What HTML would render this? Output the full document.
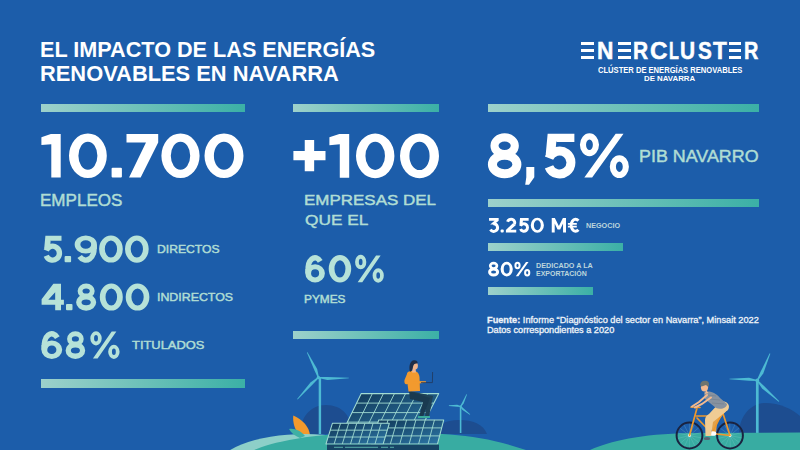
<!DOCTYPE html><html><head><meta charset="utf-8"><style>
html,body{margin:0;padding:0;width:800px;height:450px;overflow:hidden}
body{background:#1c5daa;position:relative;font-family:"Liberation Sans",sans-serif}
.t{position:absolute;white-space:nowrap;line-height:1;transform-origin:0 0}
.bar{position:absolute;background:linear-gradient(90deg,#9dd1cb 0%,#3bb0a6 100%)}
</style></head><body>
<svg width="800" height="450" viewBox="0 0 800 450" style="position:absolute;left:0;top:0"><defs><linearGradient id="g1" x1="0" y1="0" x2="1" y2="1"><stop offset="0" stop-color="#103655"/><stop offset="1" stop-color="#2d78a8"/></linearGradient></defs><path d="M300,434 C300,418 310,405 326,405 C342,405 352,416 352,434 Z" fill="#1d4d90"/><path d="M436,434 C436,425 445,420 459,420 C473,420 483,424 487,434 Z" fill="#1d4d90"/><path d="M739,434 C739,415 752,403 765,403 C780,403 792,409 800,416 L800,434 Z" fill="#1d4d90"/><g fill="#4dbad3"><rect x="318.70" y="377.50" width="2.4" height="56.50"/><polygon points="318.95,377.26 317.14,369.01 307.52,352.16 306.88,352.44 314.41,370.22 317.85,377.74"/><polygon points="318.39,378.10 327.48,379.95 348.79,378.35 348.81,377.65 327.53,376.96 318.41,376.90"/><polygon points="317.97,377.08 310.44,382.44 297.15,399.06 297.65,399.54 312.60,384.52 318.83,377.92"/><circle cx="318.4" cy="377.5" r="1.68"/></g><g fill="#4dbad3"><rect x="459.80" y="406.50" width="1.6" height="26.50"/><polygon points="461.14,406.77 463.68,403.50 467.01,394.56 466.39,394.24 462.05,402.68 460.06,406.23"/><polygon points="460.65,405.90 457.20,404.83 448.93,405.25 448.87,405.95 457.06,406.65 460.55,407.10"/><polygon points="460.21,406.96 462.52,409.94 469.77,414.67 470.23,414.13 463.69,408.55 460.99,406.04"/><circle cx="460.6" cy="406.5" r="1.12"/></g><g fill="#4dbad3"><rect x="755.95" y="380.50" width="2.7" height="53.50"/><polygon points="757.84,380.76 763.28,373.42 770.32,353.65 769.68,353.35 760.46,372.09 756.76,380.24"/><polygon points="757.33,379.90 749.09,377.65 729.52,378.65 729.48,379.35 748.92,380.77 757.27,381.10"/><polygon points="756.88,380.93 762.14,388.52 778.76,401.75 779.24,401.25 764.31,386.28 757.72,380.07"/><circle cx="757.3" cy="380.5" r="1.89"/></g><path d="M293.3,415.6 C303,420 309,427 310,435 L299,435 C295,430 292.5,423 293.3,415.6 Z" fill="#f39a2c"/><ellipse cx="305" cy="470" rx="90" ry="36" fill="#8dcfc8"/><path d="M289,429 C295,428 301,431 305,436 L300,438 C295,436 291,433 289,429 Z" fill="#3fb0a4"/><path d="M254,450 C270,443 310,432.5 380,432.5 C440,432.5 480,434 526,450 Z" fill="#38aca2"/><path d="M590,450 C610,441 640,434 690,433 L800,432.5 L800,450 Z" fill="#38aca2"/><polygon points="361.25,393.6 438.75,393.6 419.4,431.6 342.8,431.6" fill="url(#g1)" stroke="#a2dcd2" stroke-width="1.05" stroke-linejoin="round"/><g stroke="#a2dcd2" stroke-width="0.8925"><line x1="372.32" y1="393.60" x2="353.74" y2="431.60"/><line x1="383.39" y1="393.60" x2="364.69" y2="431.60"/><line x1="394.46" y1="393.60" x2="375.63" y2="431.60"/><line x1="405.54" y1="393.60" x2="386.57" y2="431.60"/><line x1="416.61" y1="393.60" x2="397.51" y2="431.60"/><line x1="427.68" y1="393.60" x2="408.46" y2="431.60"/><line x1="356.64" y1="403.10" x2="433.91" y2="403.10"/><line x1="352.02" y1="412.60" x2="429.07" y2="412.60"/><line x1="347.41" y1="422.10" x2="424.24" y2="422.10"/></g><g><path d="M410,391 L433,396 L429,417 L425,417 L427,400 L415,398 Z" fill="#1f4257"/><path d="M409,391 L430,398 L423,417 L419,417 L423,402 L410,399 Z" fill="#1a3a50"/><path d="M407,374 C407,371.5 410,371 413,371 C417,371 419,373 419.5,377 L420,391 L408.5,391.5 L407.5,384 C405,385 404,383 404.5,380 Z" fill="#f29a2e"/><path d="M413,381 L426,381.2 L426,382.8 L414,384 Z" fill="#f29a2e"/><path d="M421,382.6 L432.4,382.6 L432.6,372" stroke="#22385a" stroke-width="0.8" fill="none"/><path d="M412,372.5 L416,372.5 L415.5,368 L412.5,368 Z" fill="#f0b48c"/><ellipse cx="415" cy="365.8" rx="2.9" ry="3.8" fill="#f0b48c"/><path d="M410,372 C408.5,367 410,360.5 414,360.3 C417,360.2 418,362 417.5,363.5 C415,363 413.5,364 413,367 C412.5,369 412,371 410,372 Z" fill="#1e2e48"/><rect x="424" y="416" width="6" height="2" fill="#3aab9c"/><rect x="418" y="416" width="6" height="2" fill="#3aab9c"/></g><polygon points="378.75,419.9 443.75,419.9 437.5,443.9 371.5,443.9" fill="url(#g1)" stroke="#a2dcd2" stroke-width="1.05" stroke-linejoin="round"/><g stroke="#a2dcd2" stroke-width="0.8925"><line x1="388.04" y1="419.90" x2="380.93" y2="443.90"/><line x1="397.32" y1="419.90" x2="390.36" y2="443.90"/><line x1="406.61" y1="419.90" x2="399.79" y2="443.90"/><line x1="415.89" y1="419.90" x2="409.21" y2="443.90"/><line x1="425.18" y1="419.90" x2="418.64" y2="443.90"/><line x1="434.46" y1="419.90" x2="428.07" y2="443.90"/><line x1="376.33" y1="427.90" x2="441.67" y2="427.90"/><line x1="373.92" y1="435.90" x2="439.58" y2="435.90"/></g><polygon points="332.4,423.3 389.3,423.3 383.2,443.9 326,443.9" fill="url(#g1)" stroke="#a2dcd2" stroke-width="1.05" stroke-linejoin="round"/><g stroke="#a2dcd2" stroke-width="0.8925"><line x1="340.53" y1="423.30" x2="334.17" y2="443.90"/><line x1="348.66" y1="423.30" x2="342.34" y2="443.90"/><line x1="356.79" y1="423.30" x2="350.51" y2="443.90"/><line x1="364.91" y1="423.30" x2="358.69" y2="443.90"/><line x1="373.04" y1="423.30" x2="366.86" y2="443.90"/><line x1="381.17" y1="423.30" x2="375.03" y2="443.90"/><line x1="330.27" y1="430.17" x2="387.27" y2="430.17"/><line x1="328.13" y1="437.03" x2="385.23" y2="437.03"/></g><rect x="327" y="444.6" width="112" height="5.4" fill="#174566"/><g stroke="#5fb9b0" stroke-width="0.9"><line x1="334" y1="447.3" x2="343" y2="447.3"/><line x1="345" y1="447.3" x2="378" y2="447.3"/><line x1="381" y1="447.3" x2="388" y2="447.3"/><line x1="390" y1="447.3" x2="394" y2="447.3"/></g><g><circle cx="689.5" cy="435.5" r="12.9" fill="none" stroke="#1a2340" stroke-width="2"/><line x1="689.5" y1="435.5" x2="701.26" y2="437.88" stroke="#9fd6e0" stroke-width="0.35" opacity="0.6"/><line x1="689.5" y1="435.5" x2="699.06" y2="442.75" stroke="#9fd6e0" stroke-width="0.35" opacity="0.6"/><line x1="689.5" y1="435.5" x2="694.97" y2="446.18" stroke="#9fd6e0" stroke-width="0.35" opacity="0.6"/><line x1="689.5" y1="435.5" x2="689.79" y2="447.50" stroke="#9fd6e0" stroke-width="0.35" opacity="0.6"/><line x1="689.5" y1="435.5" x2="684.56" y2="446.44" stroke="#9fd6e0" stroke-width="0.35" opacity="0.6"/><line x1="689.5" y1="435.5" x2="680.30" y2="443.21" stroke="#9fd6e0" stroke-width="0.35" opacity="0.6"/><line x1="689.5" y1="435.5" x2="677.87" y2="438.45" stroke="#9fd6e0" stroke-width="0.35" opacity="0.6"/><line x1="689.5" y1="435.5" x2="677.74" y2="433.12" stroke="#9fd6e0" stroke-width="0.35" opacity="0.6"/><line x1="689.5" y1="435.5" x2="679.94" y2="428.25" stroke="#9fd6e0" stroke-width="0.35" opacity="0.6"/><line x1="689.5" y1="435.5" x2="684.03" y2="424.82" stroke="#9fd6e0" stroke-width="0.35" opacity="0.6"/><line x1="689.5" y1="435.5" x2="689.21" y2="423.50" stroke="#9fd6e0" stroke-width="0.35" opacity="0.6"/><line x1="689.5" y1="435.5" x2="694.44" y2="424.56" stroke="#9fd6e0" stroke-width="0.35" opacity="0.6"/><line x1="689.5" y1="435.5" x2="698.70" y2="427.79" stroke="#9fd6e0" stroke-width="0.35" opacity="0.6"/><line x1="689.5" y1="435.5" x2="701.13" y2="432.55" stroke="#9fd6e0" stroke-width="0.35" opacity="0.6"/><circle cx="689.5" cy="435.5" r="1.4" fill="#fff"/><circle cx="730" cy="435.5" r="12.9" fill="none" stroke="#1a2340" stroke-width="2"/><line x1="730" y1="435.5" x2="741.76" y2="437.88" stroke="#9fd6e0" stroke-width="0.35" opacity="0.6"/><line x1="730" y1="435.5" x2="739.56" y2="442.75" stroke="#9fd6e0" stroke-width="0.35" opacity="0.6"/><line x1="730" y1="435.5" x2="735.47" y2="446.18" stroke="#9fd6e0" stroke-width="0.35" opacity="0.6"/><line x1="730" y1="435.5" x2="730.29" y2="447.50" stroke="#9fd6e0" stroke-width="0.35" opacity="0.6"/><line x1="730" y1="435.5" x2="725.06" y2="446.44" stroke="#9fd6e0" stroke-width="0.35" opacity="0.6"/><line x1="730" y1="435.5" x2="720.80" y2="443.21" stroke="#9fd6e0" stroke-width="0.35" opacity="0.6"/><line x1="730" y1="435.5" x2="718.37" y2="438.45" stroke="#9fd6e0" stroke-width="0.35" opacity="0.6"/><line x1="730" y1="435.5" x2="718.24" y2="433.12" stroke="#9fd6e0" stroke-width="0.35" opacity="0.6"/><line x1="730" y1="435.5" x2="720.44" y2="428.25" stroke="#9fd6e0" stroke-width="0.35" opacity="0.6"/><line x1="730" y1="435.5" x2="724.53" y2="424.82" stroke="#9fd6e0" stroke-width="0.35" opacity="0.6"/><line x1="730" y1="435.5" x2="729.71" y2="423.50" stroke="#9fd6e0" stroke-width="0.35" opacity="0.6"/><line x1="730" y1="435.5" x2="734.94" y2="424.56" stroke="#9fd6e0" stroke-width="0.35" opacity="0.6"/><line x1="730" y1="435.5" x2="739.20" y2="427.79" stroke="#9fd6e0" stroke-width="0.35" opacity="0.6"/><line x1="730" y1="435.5" x2="741.63" y2="432.55" stroke="#9fd6e0" stroke-width="0.35" opacity="0.6"/><circle cx="730" cy="435.5" r="1.4" fill="#fff"/><path d="M720,407 L725,412 L717,423 L716,433 L712,433 L712,421 Z" fill="#e3a24a"/><g stroke="#ee982c" stroke-width="1.7" fill="none" stroke-linecap="round" stroke-linejoin="round"><path d="M689.5,435.5 L697,408 M696.5,416 L719,416 M697,418 L712,433.5 L730,435.5 L722.5,412 L712,433.5 M691,407 L700,407.5"/></g><rect x="720" y="409.5" width="7" height="2.2" rx="1" fill="#27314d"/><ellipse cx="713" cy="433.5" rx="3.3" ry="2.3" fill="#ffffff"/><path d="M721,401 C727,401 731,405 728,410 L713,422 L711,436 L705.5,436 L705,420 C705,417 707,415 709,414 Z" fill="#f0cc94"/><ellipse cx="707" cy="438.5" rx="3.2" ry="1.6" fill="#5a6472"/><path d="M704,392.5 C709,390 716,393 720,398 L727,404 C727,408 721,410 716,408 L705,399 Z" fill="#8792a0"/><g stroke="#6f7a88" stroke-width="0.5"><line x1="707" y1="395" x2="716" y2="396"/><line x1="709" y1="399" x2="720" y2="400"/><line x1="712" y1="403" x2="724" y2="404"/></g><path d="M707,395 L699,402 L692,406.5" stroke="#f2b98f" stroke-width="2" fill="none" stroke-linecap="round"/><path d="M711,397.5 L702,404 L695,407.5" stroke="#f2b98f" stroke-width="2" fill="none" stroke-linecap="round"/><path d="M706,390 L708.5,393 L705,394 Z" fill="#f2b98f"/><ellipse cx="704.5" cy="387.3" rx="3.6" ry="4.2" fill="#f2b98f"/><path d="M700.3,385.5 C700,381 704,380 707,381 C709.5,382 709.5,385 708.3,387 L706,385 L701.5,386.5 Z" fill="#6e7570"/></g></svg>
<svg width="800" height="450" viewBox="0 0 800 450" style="position:absolute;left:0;top:0"><path d="M41.40,137.18 L50.83,133.90 L60.70,133.90 L60.70,177.60 L51.30,177.60 L51.30,144.17 L41.40,145.04 Z " fill="#ffffff"/><path d="M69.00,155.75 A18.90,22.37 0 1,1 106.80,155.75 A18.90,22.37 0 1,1 69.00,155.75 Z M78.40,155.75 A9.50,14.07 0 1,0 97.40,155.75 A9.50,14.07 0 1,0 78.40,155.75 Z " fill="#ffffff"/><rect x="111.60" y="167.81" width="10.30" height="9.79" rx="1" fill="#ffffff"/><path d="M126.50,133.90 L158.20,133.90 L158.20,142.62 L140.69,177.60 L129.04,177.60 L145.99,142.62 L126.50,142.62 Z " fill="#ffffff"/><path d="M161.40,155.75 A19.10,22.37 0 1,1 199.60,155.75 A19.10,22.37 0 1,1 161.40,155.75 Z M170.80,155.75 A9.70,14.07 0 1,0 190.20,155.75 A9.70,14.07 0 1,0 170.80,155.75 Z " fill="#ffffff"/><path d="M204.50,155.75 A19.50,22.37 0 1,1 243.50,155.75 A19.50,22.37 0 1,1 204.50,155.75 Z M213.90,155.75 A10.10,14.07 0 1,0 234.10,155.75 A10.10,14.07 0 1,0 213.90,155.75 Z " fill="#ffffff"/><path d="M304.74,140.00 L314.16,140.00 L314.16,150.89 L325.50,150.89 L325.50,160.31 L314.16,160.31 L314.16,171.20 L304.74,171.20 L304.74,160.31 L293.40,160.31 L293.40,150.89 L304.74,150.89 Z " fill="#ffffff"/><path d="M329.40,137.28 L339.31,134.00 L349.20,134.00 L349.20,177.80 L339.78,177.80 L339.78,144.29 L329.40,145.17 Z " fill="#ffffff"/><path d="M356.00,155.90 A19.20,22.43 0 1,1 394.40,155.90 A19.20,22.43 0 1,1 356.00,155.90 Z M365.42,155.90 A9.78,14.10 0 1,0 384.98,155.90 A9.78,14.10 0 1,0 365.42,155.90 Z " fill="#ffffff"/><path d="M400.00,155.90 A19.50,22.43 0 1,1 439.00,155.90 A19.50,22.43 0 1,1 400.00,155.90 Z M409.42,155.90 A10.08,14.10 0 1,0 429.58,155.90 A10.08,14.10 0 1,0 409.42,155.90 Z " fill="#ffffff"/><path d="M490.45,145.71 A14.20,12.44 0 1,1 518.85,145.71 A14.20,12.44 0 1,1 490.45,145.71 Z M498.55,145.71 A6.10,4.20 0 1,0 510.75,145.71 A6.10,4.20 0 1,0 498.55,145.71 Z M487.90,164.46 A16.75,13.67 0 1,1 521.40,164.46 A16.75,13.67 0 1,1 487.90,164.46 Z M496.91,164.46 A7.74,4.82 0 1,0 512.39,164.46 A7.74,4.82 0 1,0 496.91,164.46 Z " fill="#ffffff"/><path d="M526.29,166.90 L534.30,166.90 L534.30,177.22 L529.02,184.70 L525.20,184.70 L526.29,177.22 Z " fill="#ffffff"/><path d="M547.65,133.80 L574.38,133.80 L574.38,142.12 L557.07,142.12 Z M547.65,133.80 L557.07,133.80 L555.14,154.39 L545.72,154.39 Z " fill="#ffffff"/><path d="M549.00,158.19 A11.39,11.48 0 1,1 549.00,166.79" fill="none" stroke="#ffffff" stroke-width="8.95"/><path d="M579.90,144.75 A9.55,11.39 0 1,1 599.01,144.75 A9.55,11.39 0 1,1 579.90,144.75 Z M586.03,144.75 A3.42,5.26 0 1,0 592.88,144.75 A3.42,5.26 0 1,0 586.03,144.75 Z M609.79,166.65 A9.55,11.39 0 1,1 628.90,166.65 A9.55,11.39 0 1,1 609.79,166.65 Z M615.92,166.65 A3.42,5.26 0 1,0 622.77,166.65 A3.42,5.26 0 1,0 615.92,166.65 Z M615.67,133.80 L623.51,133.80 L592.15,177.60 L584.31,177.60 Z " fill="#ffffff"/><path d="M45.40,235.75 L61.51,235.75 L61.51,240.79 L51.11,240.79 Z M45.40,235.75 L51.11,235.75 L49.95,248.23 L44.24,248.23 Z " fill="#b6e2d8"/><path d="M46.23,250.53 A6.85,6.96 0 1,1 46.23,255.75" fill="none" stroke="#b6e2d8" stroke-width="5.42"/><rect x="64.60" y="256.12" width="6.50" height="6.17" rx="1" fill="#b6e2d8"/><g transform="rotate(180 85.78 249.03)"><path d="M74.65,253.54 A11.12,9.08 0 1,1 96.90,253.54 A11.12,9.08 0 1,1 74.65,253.54 Z M80.36,253.54 A5.42,4.04 0 1,0 91.19,253.54 A5.42,4.04 0 1,0 80.36,253.54 Z " fill="#b6e2d8"/><path d="M77.79,251.89 A8.27,11.07 0 0,1 91.92,241.62" fill="none" stroke="#b6e2d8" stroke-width="5.42"/><path d="M74.65,249.03 L80.36,249.03 L80.36,253.54 L74.65,253.54 Z" fill="#b6e2d8"/></g><path d="M99.10,249.03 A11.85,13.59 0 1,1 122.80,249.03 A11.85,13.59 0 1,1 99.10,249.03 Z M104.81,249.03 A6.14,8.55 0 1,0 117.09,249.03 A6.14,8.55 0 1,0 104.81,249.03 Z " fill="#b6e2d8"/><path d="M125.00,249.03 A11.85,13.59 0 1,1 148.70,249.03 A11.85,13.59 0 1,1 125.00,249.03 Z M130.71,249.03 A6.14,8.55 0 1,0 142.99,249.03 A6.14,8.55 0 1,0 130.71,249.03 Z " fill="#b6e2d8"/><path d="M53.39,283.75 L61.00,283.75 L61.00,299.68 L63.90,299.68 L63.90,304.72 L61.00,304.72 L61.00,310.30 L55.18,310.30 L55.18,304.72 L41.60,304.72 L41.60,299.15 Z M55.18,299.68 L48.29,299.68 L55.18,292.25 Z " fill="#b6e2d8" fill-rule="evenodd"/><rect x="66.00" y="304.12" width="6.50" height="6.17" rx="1" fill="#b6e2d8"/><path d="M77.63,290.97 A8.52,7.54 0 1,1 94.67,290.97 A8.52,7.54 0 1,1 77.63,290.97 Z M82.49,290.97 A3.66,2.55 0 1,0 89.81,290.97 A3.66,2.55 0 1,0 82.49,290.97 Z M76.10,302.34 A10.05,8.28 0 1,1 96.20,302.34 A10.05,8.28 0 1,1 76.10,302.34 Z M81.51,302.34 A4.64,2.92 0 1,0 90.79,302.34 A4.64,2.92 0 1,0 81.51,302.34 Z " fill="#b6e2d8"/><path d="M99.80,297.02 A11.50,13.59 0 1,1 122.80,297.02 A11.50,13.59 0 1,1 99.80,297.02 Z M105.51,297.02 A5.79,8.55 0 1,0 117.09,297.02 A5.79,8.55 0 1,0 105.51,297.02 Z " fill="#b6e2d8"/><path d="M125.70,297.02 A11.85,13.59 0 1,1 149.40,297.02 A11.85,13.59 0 1,1 125.70,297.02 Z M131.41,297.02 A6.14,8.55 0 1,0 143.69,297.02 A6.14,8.55 0 1,0 131.41,297.02 Z " fill="#b6e2d8"/><g><path d="M41.40,349.69 A10.40,9.23 0 1,1 62.20,349.69 A10.40,9.23 0 1,1 41.40,349.69 Z M47.20,349.69 A4.60,4.10 0 1,0 56.39,349.69 A4.60,4.10 0 1,0 47.20,349.69 Z " fill="#b6e2d8"/><path d="M44.56,348.01 A7.50,11.26 0 0,1 57.37,337.57" fill="none" stroke="#b6e2d8" stroke-width="5.51"/><path d="M41.40,345.10 L47.20,345.10 L47.20,349.69 L41.40,349.69 Z" fill="#b6e2d8"/></g><path d="M67.09,338.94 A8.31,7.67 0 1,1 83.71,338.94 A8.31,7.67 0 1,1 67.09,338.94 Z M71.83,338.94 A3.57,2.59 0 1,0 78.97,338.94 A3.57,2.59 0 1,0 71.83,338.94 Z M65.60,350.50 A9.80,8.42 0 1,1 85.20,350.50 A9.80,8.42 0 1,1 65.60,350.50 Z M70.87,350.50 A4.53,2.97 0 1,0 79.93,350.50 A4.53,2.97 0 1,0 70.87,350.50 Z " fill="#b6e2d8"/><path d="M90.30,338.35 A5.71,7.02 0 1,1 101.73,338.35 A5.71,7.02 0 1,1 90.30,338.35 Z M94.08,338.35 A1.93,3.24 0 1,0 97.95,338.35 A1.93,3.24 0 1,0 94.08,338.35 Z M108.17,351.85 A5.71,7.02 0 1,1 119.60,351.85 A5.71,7.02 0 1,1 108.17,351.85 Z M111.95,351.85 A1.93,3.24 0 1,0 115.82,351.85 A1.93,3.24 0 1,0 111.95,351.85 Z M111.69,331.60 L116.38,331.60 L97.62,358.60 L92.94,358.60 Z " fill="#b6e2d8"/><g><path d="M305.30,273.36 A9.80,9.17 0 1,1 324.90,273.36 A9.80,9.17 0 1,1 305.30,273.36 Z M311.06,273.36 A4.04,4.07 0 1,0 319.14,273.36 A4.04,4.07 0 1,0 311.06,273.36 Z " fill="#b6e2d8"/><path d="M308.42,271.69 A6.92,11.18 0 0,1 320.24,261.32" fill="none" stroke="#b6e2d8" stroke-width="5.47"/><path d="M305.30,268.80 L311.06,268.80 L311.06,273.36 L305.30,273.36 Z" fill="#b6e2d8"/></g><path d="M328.70,268.80 A11.25,13.72 0 1,1 351.20,268.80 A11.25,13.72 0 1,1 328.70,268.80 Z M334.46,268.80 A5.49,8.63 0 1,0 345.44,268.80 A5.49,8.63 0 1,0 334.46,268.80 Z " fill="#b6e2d8"/><path d="M355.10,262.10 A5.60,6.97 0 1,1 366.29,262.10 A5.60,6.97 0 1,1 355.10,262.10 Z M358.85,262.10 A1.84,3.22 0 1,0 362.54,262.10 A1.84,3.22 0 1,0 358.85,262.10 Z M372.61,275.50 A5.60,6.97 0 1,1 383.80,275.50 A5.60,6.97 0 1,1 372.61,275.50 Z M376.36,275.50 A1.84,3.22 0 1,0 380.05,275.50 A1.84,3.22 0 1,0 376.36,275.50 Z M376.05,255.40 L380.64,255.40 L362.28,282.20 L357.68,282.20 Z " fill="#b6e2d8"/><path d="M489.04,218.00 L498.67,218.00 L498.67,220.75 L493.96,224.38 L490.22,224.38 L494.62,220.75 L489.04,220.75 Z " fill="#ffffff"/><path d="M493.09,223.76 A3.79,3.80 0 1,1 490.47,229.40" fill="none" stroke="#ffffff" stroke-width="2.96"/><rect x="500.60" y="229.51" width="3.15" height="2.99" rx="1" fill="#ffffff"/><path d="M512.95,223.16 L515.91,225.03 L510.58,229.75 L516.25,229.75 L516.25,232.50 L505.90,232.50 L505.90,230.02 Z " fill="#ffffff"/><path d="M507.58,221.75 A3.62,3.44 0 1,1 514.35,224.09" fill="none" stroke="#ffffff" stroke-width="2.96"/><path d="M520.06,218.00 L528.65,218.00 L528.65,220.75 L523.17,220.75 Z M520.06,218.00 L523.17,218.00 L522.55,224.81 L519.43,224.81 Z " fill="#ffffff"/><path d="M520.53,226.07 A3.62,3.80 0 1,1 520.53,228.92" fill="none" stroke="#ffffff" stroke-width="2.96"/><path d="M530.75,225.25 A6.57,7.42 0 1,1 543.90,225.25 A6.57,7.42 0 1,1 530.75,225.25 Z M533.87,225.25 A3.46,4.67 0 1,0 540.78,225.25 A3.46,4.67 0 1,0 533.87,225.25 Z " fill="#ffffff"/><path d="M551.75,232.50 L551.75,218.00 L554.86,218.00 L558.88,225.97 L562.89,218.00 L566.00,218.00 L566.00,232.50 L563.04,232.50 L563.04,223.51 L560.21,229.60 L557.54,229.60 L554.71,223.51 L554.71,232.50 Z " fill="#ffffff"/><path d="M567.90,222.93 L576.81,222.93 L576.81,224.67 L567.90,224.67 Z M567.90,225.83 L576.81,225.83 L576.81,227.57 L567.90,227.57 Z " fill="#ffffff"/><path d="M578.36,220.76 A4.28,6.05 0 1,0 578.36,229.74" fill="none" stroke="#ffffff" stroke-width="2.96"/><path d="M488.94,265.82 A4.66,4.09 0 1,1 498.26,265.82 A4.66,4.09 0 1,1 488.94,265.82 Z M491.60,265.82 A2.00,1.38 0 1,0 495.60,265.82 A2.00,1.38 0 1,0 491.60,265.82 Z M488.10,271.98 A5.50,4.49 0 1,1 499.10,271.98 A5.50,4.49 0 1,1 488.10,271.98 Z M491.06,271.98 A2.54,1.58 0 1,0 496.14,271.98 A2.54,1.58 0 1,0 491.06,271.98 Z " fill="#ffffff"/><path d="M500.60,269.10 A6.10,7.37 0 1,1 512.80,269.10 A6.10,7.37 0 1,1 500.60,269.10 Z M503.70,269.10 A3.00,4.64 0 1,0 509.70,269.10 A3.00,4.64 0 1,0 503.70,269.10 Z " fill="#ffffff"/><path d="M514.40,265.50 A3.10,3.74 0 1,1 520.60,265.50 A3.10,3.74 0 1,1 514.40,265.50 Z M516.42,265.50 A1.08,1.73 0 1,0 518.58,265.50 A1.08,1.73 0 1,0 516.42,265.50 Z M524.10,272.70 A3.10,3.74 0 1,1 530.30,272.70 A3.10,3.74 0 1,1 524.10,272.70 Z M526.12,272.70 A1.08,1.73 0 1,0 528.28,272.70 A1.08,1.73 0 1,0 526.12,272.70 Z M526.01,261.90 L528.55,261.90 L518.38,276.30 L515.83,276.30 Z " fill="#ffffff"/></svg>
<div class="bar" style="left:41.00px;top:104.00px;width:204.00px;height:8.00px"></div>
<div class="bar" style="left:293.30px;top:104.00px;width:146.00px;height:8.00px"></div>
<div class="bar" style="left:487.60px;top:104.00px;width:271.10px;height:8.00px"></div>
<div class="bar" style="left:41.00px;top:379.30px;width:204.00px;height:8.70px"></div>
<div class="bar" style="left:293.30px;top:331.20px;width:146.20px;height:8.00px"></div>
<div class="bar" style="left:488.00px;top:199.00px;width:270.80px;height:8.40px"></div>
<div class="bar" style="left:488.00px;top:243.00px;width:135.00px;height:8.20px"></div>
<div class="bar" style="left:488.00px;top:286.80px;width:105.20px;height:8.20px"></div>
<div style="position:absolute;left:581px;top:41.90px;width:12.75px;height:3.20px;background:#fff"></div><div style="position:absolute;left:581px;top:48.72px;width:12.75px;height:3.20px;background:#fff"></div><div style="position:absolute;left:581px;top:55.55px;width:12.75px;height:3.20px;background:#fff"></div>
<div style="position:absolute;left:617.5px;top:41.90px;width:13.10px;height:3.20px;background:#fff"></div><div style="position:absolute;left:617.5px;top:48.72px;width:13.10px;height:3.20px;background:#fff"></div><div style="position:absolute;left:617.5px;top:55.55px;width:13.10px;height:3.20px;background:#fff"></div>
<div style="position:absolute;left:728.75px;top:41.90px;width:12.50px;height:3.20px;background:#fff"></div><div style="position:absolute;left:728.75px;top:48.72px;width:12.50px;height:3.20px;background:#fff"></div><div style="position:absolute;left:728.75px;top:55.55px;width:12.50px;height:3.20px;background:#fff"></div>
<div class="t" style="left:39.958px;top:39.017px;font-size:21.221px;font-weight:700;color:#ffffff;transform:scaleX(1.0193)">EL IMPACTO DE LAS ENERGÍAS</div>
<div class="t" style="left:39.943px;top:62.917px;font-size:21.221px;font-weight:700;color:#ffffff;transform:scaleX(1.0302)">RENOVABLES EN NAVARRA</div>
<div class="t" style="left:597.619px;top:66.264px;font-size:8.705px;font-weight:700;color:#ffffff;transform:scaleX(0.8729)">CLÚSTER DE ENERGÍAS RENOVABLES</div>
<div class="t" style="left:643.975px;top:74.543px;font-size:8.049px;font-weight:700;color:#ffffff;transform:scaleX(0.9778)">DE NAVARRA</div>
<div class="t" style="left:597.486px;top:38.561px;font-size:23.928px;font-weight:700;color:#ffffff;transform:scaleX(0.9493);-webkit-text-stroke:0.5px #ffffff">N</div>
<div class="t" style="left:632.926px;top:39.763px;font-size:23.417px;font-weight:700;color:#ffffff;transform:scaleX(0.8926);-webkit-text-stroke:0.5px #ffffff">R</div>
<div class="t" style="left:650.040px;top:38.561px;font-size:23.928px;font-weight:700;color:#ffffff;transform:scaleX(1.0159);-webkit-text-stroke:0.5px #ffffff">C</div>
<div class="t" style="left:669.053px;top:38.660px;font-size:23.750px;font-weight:700;color:#ffffff;transform:scaleX(0.6814);-webkit-text-stroke:0.5px #ffffff">L</div>
<div class="t" style="left:680.204px;top:38.561px;font-size:23.928px;font-weight:700;color:#ffffff;transform:scaleX(0.8742);-webkit-text-stroke:0.5px #ffffff">U</div>
<div class="t" style="left:697.909px;top:38.660px;font-size:23.750px;font-weight:700;color:#ffffff;transform:scaleX(0.8709);-webkit-text-stroke:0.5px #ffffff">S</div>
<div class="t" style="left:712.744px;top:38.660px;font-size:23.750px;font-weight:700;color:#ffffff;transform:scaleX(0.9538);-webkit-text-stroke:0.5px #ffffff">T</div>
<div class="t" style="left:743.942px;top:39.763px;font-size:23.417px;font-weight:700;color:#ffffff;transform:scaleX(0.8471);-webkit-text-stroke:0.5px #ffffff">R</div>
<div class="t" style="left:39.774px;top:192.294px;font-size:16.164px;font-weight:400;color:#b0ddd4;transform:scaleX(1.0545);-webkit-text-stroke:0.45px #b0ddd4">EMPLEOS</div>
<div class="t" style="left:156.619px;top:243.988px;font-size:11.134px;font-weight:400;color:#b0ddd4;transform:scaleX(1.0909);-webkit-text-stroke:0.45px #b0ddd4">DIRECTOS</div>
<div class="t" style="left:157.202px;top:290.524px;font-size:11.673px;font-weight:400;color:#b0ddd4;transform:scaleX(1.0611);-webkit-text-stroke:0.45px #b0ddd4">INDIRECTOS</div>
<div class="t" style="left:131.909px;top:340.436px;font-size:11.389px;font-weight:400;color:#b0ddd4;transform:scaleX(1.1348);-webkit-text-stroke:0.45px #b0ddd4">TITULADOS</div>
<div class="t" style="left:304.229px;top:192.691px;font-size:14.788px;font-weight:400;color:#b0ddd4;transform:scaleX(1.1488);-webkit-text-stroke:0.45px #b0ddd4">EMPRESAS DEL</div>
<div class="t" style="left:304.945px;top:212.008px;font-size:15.567px;font-weight:400;color:#b0ddd4;transform:scaleX(1.1113);-webkit-text-stroke:0.45px #b0ddd4">QUE EL</div>
<div class="t" style="left:304.279px;top:294.690px;font-size:10.421px;font-weight:400;color:#b0ddd4;transform:scaleX(1.1376);-webkit-text-stroke:0.45px #b0ddd4">PYMES</div>
<div class="t" style="left:639.095px;top:147.564px;font-size:16.240px;font-weight:400;color:#b0ddd4;transform:scaleX(1.1015);-webkit-text-stroke:0.45px #b0ddd4">PIB NAVARRO</div>
<div class="t" style="left:586.465px;top:223.234px;font-size:6.293px;font-weight:700;color:#bcd6dc;transform:scaleX(1.1452)">NEGOCIO</div>
<div class="t" style="left:536.240px;top:261.771px;font-size:7.384px;font-weight:700;color:#bcd6dc;transform:scaleX(0.9784)">DEDICADO A LA</div>
<div class="t" style="left:535.889px;top:269.978px;font-size:7.388px;font-weight:700;color:#bcd6dc;transform:scaleX(0.9471)">EXPORTACIÓN</div>
<div class="t" style="left:487.120px;top:315.673px;font-size:9.245px;font-weight:400;color:#eef3f8;transform:scaleX(0.9974);-webkit-text-stroke:0.3px #eef3f8"><b>Fuente:</b> Informe “Diagnóstico del sector en Navarra”, Minsait 2022</div>
<div class="t" style="left:486.886px;top:325.799px;font-size:8.342px;font-weight:400;color:#eef3f8;transform:scaleX(1.0993);-webkit-text-stroke:0.3px #eef3f8">Datos correspondientes a 2020</div>
</body></html>
